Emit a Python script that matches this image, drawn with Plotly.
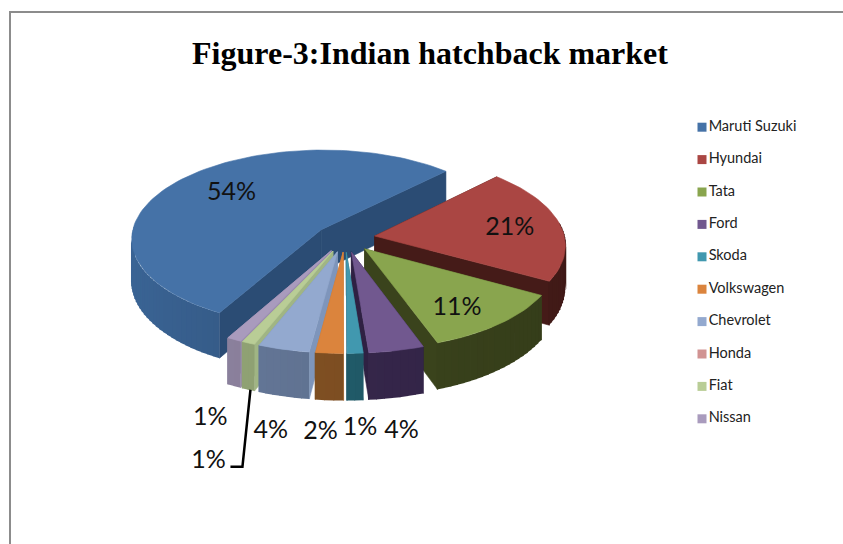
import math
import plotly.graph_objects as go

# ---------- data ----------
categories = ["Maruti Suzuki", "Hyundai", "Tata", "Ford", "Skoda",
              "Volkswagen", "Chevrolet", "Honda", "Fiat", "Nissan"]
shares = [54.2, 20.8, 11.4, 4.2, 1.2, 2.1, 3.9, 0.0, 1.0, 1.1]
title_text = "Figure-3:Indian hatchback market"

# ---------- style ----------
top_colors = ["#4572a7", "#aa4643", "#89a54e", "#71588f", "#4198af",
              "#db843d", "#93a9cf", "#d19392", "#b9cd96", "#a99bbd"]
outer_colors = ["#38608f", "#471c19", "#3a431c", "#35264a", "#205a68",
                "#7d4e22", "#5f7190", "#8a6a6a", "#8a9b6f", "#847a95"]
radial_colors = ["#2b4c74", "#451b18", "#3a431c", "#2f2143", "#2a6070",
                 "#c57733", "#7e95bb", "#b08080", "#a0b584", "#9a8cae"]
# label placement relative to each slice's anchor, in pixels
label_nudge = [(0, -5), (20, 0), (11, 15), (5, 34), (5, 28),
               (-9, 32), (-13, 35), (0, 0), (-40, 72), (-24, 33)]
inner_labels = {0, 1, 2}

CX, CY = 345, 238      # pie centre
R, PULL = 190, 30      # radius, explosion
K, P = 0.467, 0.095    # tilt, perspective
H = 42                 # thickness
START = 209            # first slice angle, degrees clockwise from top


def project(wx, wz, drop=0.0):
    s = 1 / (1 + P * wz / R)
    return CX + wx * s, CY - K * wz * s + drop * s


def arc_world(ox, oz, a0, a1, n):
    pts = []
    for i in range(n + 1):
        a = math.radians(a0 + (a1 - a0) * i / n)
        pts.append((ox + R * math.sin(a), oz + R * math.cos(a)))
    return pts


def shade(hex_color, f):
    r, g, b = (int(hex_color[i:i + 2], 16) for i in (1, 3, 5))
    return "rgb(%d,%d,%d)" % tuple(min(255, round(c * f)) for c in (r, g, b))


def poly(xs, ys, color, width=0.6):
    return go.Scatter(x=xs + xs[:1], y=ys + ys[:1], mode="lines", fill="toself",
                      fillcolor=color, line=dict(color=color, width=width),
                      hoverinfo="skip", showlegend=False)


total = sum(shares)
slices = []
angle = START
for i, v in enumerate(shares):
    sweep = v / total * 360
    slices.append((i, angle, angle + sweep))
    angle += sweep

fig = go.Figure()
order = sorted(slices, key=lambda t: -math.cos(math.radians((t[1] + t[2]) / 2)))
for i, a0, a1 in order:
    if shares[i] == 0:
        continue
    mid = math.radians((a0 + a1) / 2)
    ox, oz = PULL * math.sin(mid), PULL * math.cos(mid)
    n = max(2, int((a1 - a0) / 2))
    rim = arc_world(ox, oz, a0, a1, n)
    # radial faces
    for wx, wz in (rim[0], rim[-1]):
        p0, p1 = project(ox, oz), project(wx, wz)
        p2, p3 = project(wx, wz, H), project(ox, oz, H)
        fig.add_trace(poly([p0[0], p1[0], p2[0], p3[0]],
                           [p0[1], p1[1], p2[1], p3[1]], radial_colors[i]))
    # rim wall, as shaded strips
    for j in range(n):
        (wx0, wz0), (wx1, wz1) = rim[j], rim[j + 1]
        if wz0 > 0.15 * R and wz1 > 0.15 * R:
            continue
        p0, p1 = project(wx0, wz0), project(wx1, wz1)
        p2, p3 = project(wx1, wz1, H), project(wx0, wz0, H)
        a = math.radians(a0 + (a1 - a0) * (j + 0.5) / n)
        f = 1 + 0.16 * (-math.sin(a)) * (1 if i == 0 else 0.6) - (0.12 if i == 0 else 0)
        # the outline is left out: strips are widened by a sliver so they overlap
        ex = 0.8 if p1[0] >= p0[0] else -0.8
        fig.add_trace(go.Scatter(
            x=[p0[0], p1[0] + ex, p2[0] + ex, p3[0], p0[0]],
            y=[p0[1], p1[1], p2[1], p3[1], p0[1]], mode="lines", fill="toself",
            fillcolor=shade(outer_colors[i], f), line=dict(width=0),
            hoverinfo="skip", showlegend=False))
    # top face
    pts = [project(ox, oz)] + [project(wx, wz) for wx, wz in rim]
    fig.add_trace(poly([p[0] for p in pts], [p[1] for p in pts], top_colors[i]))

# value labels
lx, ly, lt = [], [], []
for i, a0, a1 in slices:
    if shares[i] == 0:
        continue
    mid = math.radians((a0 + a1) / 2)
    ox, oz = PULL * math.sin(mid), PULL * math.cos(mid)
    if i in inner_labels:
        x, y = project(ox + 0.62 * R * math.sin(mid), oz + 0.62 * R * math.cos(mid))
    else:
        x, y = project(ox + R * math.sin(mid), oz + R * math.cos(mid), H)
    lx.append(x + label_nudge[i][0])
    ly.append(y + label_nudge[i][1])
    lt.append(f"{round(shares[i] / total * 100)}%")
fig.add_trace(go.Scatter(x=lx, y=ly, text=lt, mode="text", textposition="middle center",
                         textfont=dict(family="Lato", size=25, color="#111111"),
                         hoverinfo="skip", showlegend=False))

# leader line for the Fiat label
fiat = categories.index("Fiat")
_, a0, a1 = slices[fiat]
mid = math.radians((a0 + a1) / 2)
ox, oz = PULL * math.sin(mid), PULL * math.cos(mid)
sx, sy = project(ox + R * math.sin(mid), oz + R * math.cos(mid), H)
fig.add_trace(go.Scatter(x=[sx + 2, sx - 6, sx - 18], y=[sy, sy + 77, sy + 77], mode="lines",
                         line=dict(color="#000000", width=2.5),
                         hoverinfo="skip", showlegend=False))

# legend column on its own category axis
fig.add_trace(go.Scatter(x=[0] * len(categories), y=categories, text=categories,
                         mode="markers+text", textposition="middle right",
                         marker=dict(symbol="square", size=9, color=top_colors),
                         textfont=dict(family="Lato", size=14.5, color="#222222"),
                         xaxis="x2", yaxis="y2", hoverinfo="skip", showlegend=False))

fig.update_layout(
    width=843, height=544, margin=dict(l=0, r=0, t=0, b=0),
    paper_bgcolor="white", plot_bgcolor="white", showlegend=False,
    title=dict(text=title_text, x=430 / 843, xanchor="center", y=1 - 53 / 544, yanchor="middle",
               font=dict(family="Liberation Serif", size=32, color="#000000", weight="bold")),
    xaxis=dict(domain=[0, 1], range=[0, 843], visible=False, fixedrange=True),
    yaxis=dict(domain=[0, 1], range=[544, 0], visible=False, fixedrange=True),
    xaxis2=dict(domain=[690 / 843, 1], range=[-12, 141], visible=False, anchor="y2", fixedrange=True),
    yaxis2=dict(domain=[1 - 435 / 544, 1 - 111 / 544], type="category",
                categoryorder="array", categoryarray=categories,
                autorange=False, range=[9.5, -0.5], visible=False, anchor="x2", fixedrange=True),
    shapes=[dict(type="rect", xref="x", yref="y", x0=10, y0=12, x1=900, y1=600,
                 line=dict(color="#8c8c8c", width=2), layer="below")],
)
fig.write_html("out.html", config={"displayModeBar": False},
               post_script="document.body.style.margin='0';")
